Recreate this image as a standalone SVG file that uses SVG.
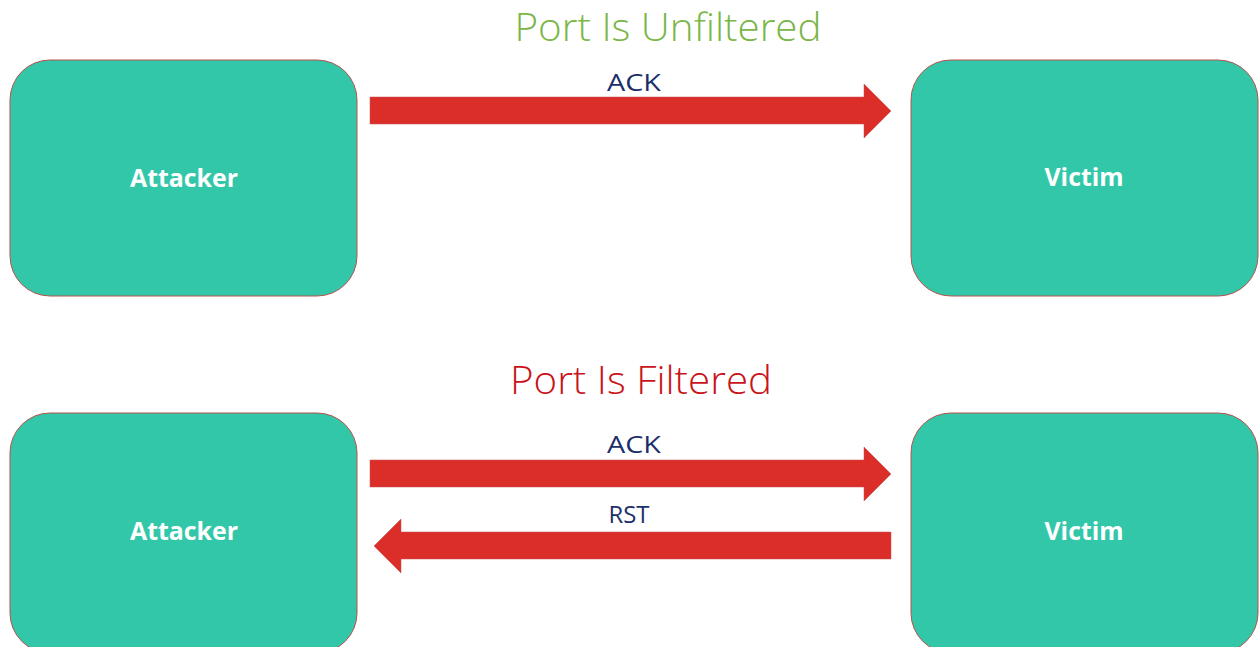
<svg xmlns="http://www.w3.org/2000/svg" width="1260" height="647" viewBox="0 0 1260 647">
<style>
.node{fill:#33c7a9;stroke:#b5524c;stroke-width:1}
.nlabel{font-family:"Open Sans","Liberation Sans",sans-serif;font-weight:700;font-size:25px;fill:#ffffff;text-anchor:middle}
.alabel{font-family:"Open Sans","Liberation Sans",sans-serif;font-size:23px;fill:#1b2f6b;text-anchor:middle}
.title{font-family:"Open Sans","Liberation Sans",sans-serif;font-weight:300;font-size:38px;text-anchor:middle}
.arrow{fill:#dc2e29;stroke:#c0504d;stroke-width:0.5}
</style>
<rect width="1260" height="647" fill="#ffffff"/>
<text class="title" x="668" y="41" fill="#7ab648" textLength="307" lengthAdjust="spacingAndGlyphs">Port Is Unfiltered</text>
<text class="title" x="641" y="394" fill="#c8141a" textLength="262" lengthAdjust="spacingAndGlyphs">Port Is Filtered</text>
<g id="attacker1"><rect class="node" x="10" y="60" width="347" height="236" rx="40"/><text class="nlabel" x="184" y="187" textLength="108" lengthAdjust="spacingAndGlyphs">Attacker</text></g>
<g id="victim1"><rect class="node" x="911" y="60" width="347" height="236" rx="40"/><text class="nlabel" x="1084" y="186" textLength="79" lengthAdjust="spacingAndGlyphs">Victim</text></g>
<g id="attacker2"><rect class="node" x="10" y="413" width="347" height="240" rx="40"/><text class="nlabel" x="184" y="540" textLength="108" lengthAdjust="spacingAndGlyphs">Attacker</text></g>
<g id="victim2"><rect class="node" x="911" y="413" width="347" height="240" rx="40"/><text class="nlabel" x="1084" y="540" textLength="79" lengthAdjust="spacingAndGlyphs">Victim</text></g>
<g id="connectors">
<polygon class="arrow" points="370,97 864,97 864,84 891,111 864,138 864,124 370,124"/>
<text class="alabel" x="634" y="91" textLength="54" lengthAdjust="spacingAndGlyphs">ACK</text>
<polygon class="arrow" points="370,460 864,460 864,447 891,474 864,501 864,487 370,487"/>
<text class="alabel" x="634" y="453" textLength="54" lengthAdjust="spacingAndGlyphs">ACK</text>
<polygon class="arrow" points="891,532 401,532 401,519 374,546 401,573 401,559 891,559"/>
<text class="alabel" x="629" y="523" textLength="41" lengthAdjust="spacingAndGlyphs">RST</text>
</g>
</svg>
